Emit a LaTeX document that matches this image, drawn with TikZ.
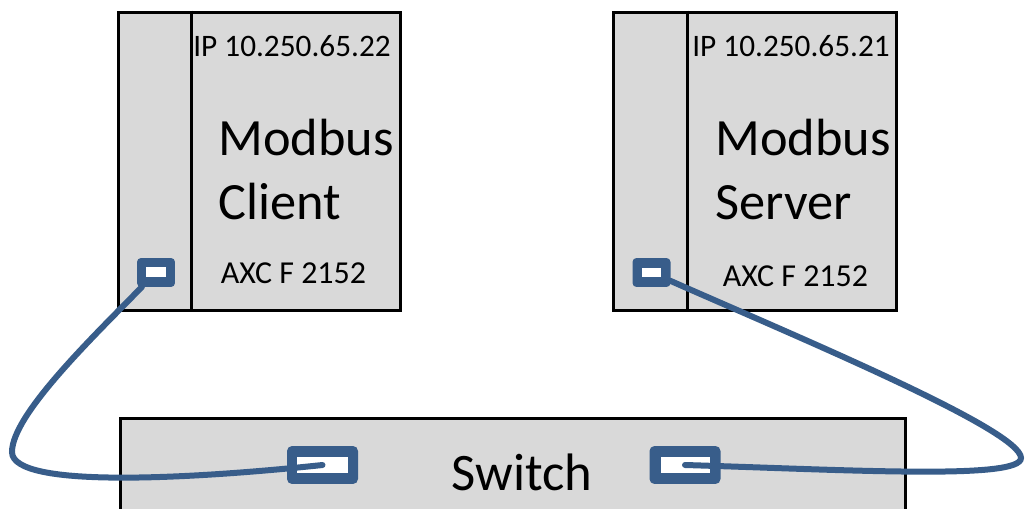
\documentclass[tikz,border=0pt]{standalone}
\usepackage{fontspec}
\setmainfont{Carlito}
\definecolor{cableblue}{HTML}{385D8A}
\definecolor{boxgray}{HTML}{D9D9D9}
\begin{document}
\begin{tikzpicture}[x=0.02cm,y=-0.02cm,
  devbox/.style={draw,line width=0.06cm,fill=boxgray,inner sep=0},
  port/.style={fill=cableblue,rounded corners=0.08cm,minimum width=0.76cm,minimum height=0.58cm,inner sep=0},
  swport/.style={port,rounded corners=0.1cm,minimum width=1.42cm,minimum height=0.76cm},
  hole/.style={fill=white,inner sep=0},
  cable/.style={draw=cableblue,line width=0.12cm,line cap=round,shorten <=0.4cm},
  smalltxt/.style={font=\fontsize{17.8}{21}\selectfont,inner sep=0},
  bigtxt/.style={font=\fontsize{29.8}{35}\selectfont,inner sep=0,anchor=base west}]
  \useasboundingbox (0,0) rectangle (1026,509);

  \node[devbox,minimum width=5.66cm,minimum height=5.98cm] (client) at (259.5,161.5) {};
  \node[devbox,minimum width=5.68cm,minimum height=5.98cm] (server) at (755,161.5) {};
  \node[devbox,minimum width=15.72cm,minimum height=2.04cm] (switch) at (513,469) {};
  \draw[line width=0.06cm] ([xshift=1.5cm]client.north west) -- ([xshift=1.5cm]client.south west);
  \draw[line width=0.06cm] ([xshift=1.52cm]server.north west) -- ([xshift=1.52cm]server.south west);

  \node[smalltxt] (cip) at (292,46) {IP 10.250.65.22};
  \node[smalltxt] (sip) at (791,46) {IP 10.250.65.21};
  \node[bigtxt] (cmod) at (218,156) {Modbus};
  \node[bigtxt] (cname) at (218,220) {Client};
  \node[bigtxt] (smod) at (715,156) {Modbus};
  \node[bigtxt] (sname) at (715,220) {Server};
  \node[smalltxt,font=\fontsize{18.2}{21}\selectfont] (ctype) at (293.5,273) {AXC F 2152};
  \node[smalltxt,font=\fontsize{18.2}{21}\selectfont] (stype) at (795.5,276) {AXC F 2152};
  \node[font=\fontsize{30}{35}\selectfont,inner sep=0] (swtxt) at (522,472) {Switch};

  \node[port] (cport) at (156,272.5) {};
  \node[hole,minimum width=0.4cm,minimum height=0.2cm] (chole) at (cport) {};
  \node[port] (sport) at (651.5,272.5) {};
  \node[hole,minimum width=0.38cm,minimum height=0.18cm] (shole) at (sport) {};
  \node[swport] (swl) at (322.5,465) {};
  \node[hole,minimum width=1.02cm,minimum height=0.32cm] (swlhole) at (swl) {};
  \node[swport] (swr) at (685,465) {};
  \node[hole,minimum width=0.98cm,minimum height=0.32cm] (swrhole) at (swr) {};

  \draw[cable] (cport.center) .. controls (92,338) and (12,415) .. (12,452)
    .. controls (12,490) and (200,478) .. (swl.center);
  \draw[cable] (sport.center) .. controls (800,338) and (1021,430) .. (1021,458)
    .. controls (1021,480) and (850,470) .. (swr.center);
\end{tikzpicture}
\end{document}
